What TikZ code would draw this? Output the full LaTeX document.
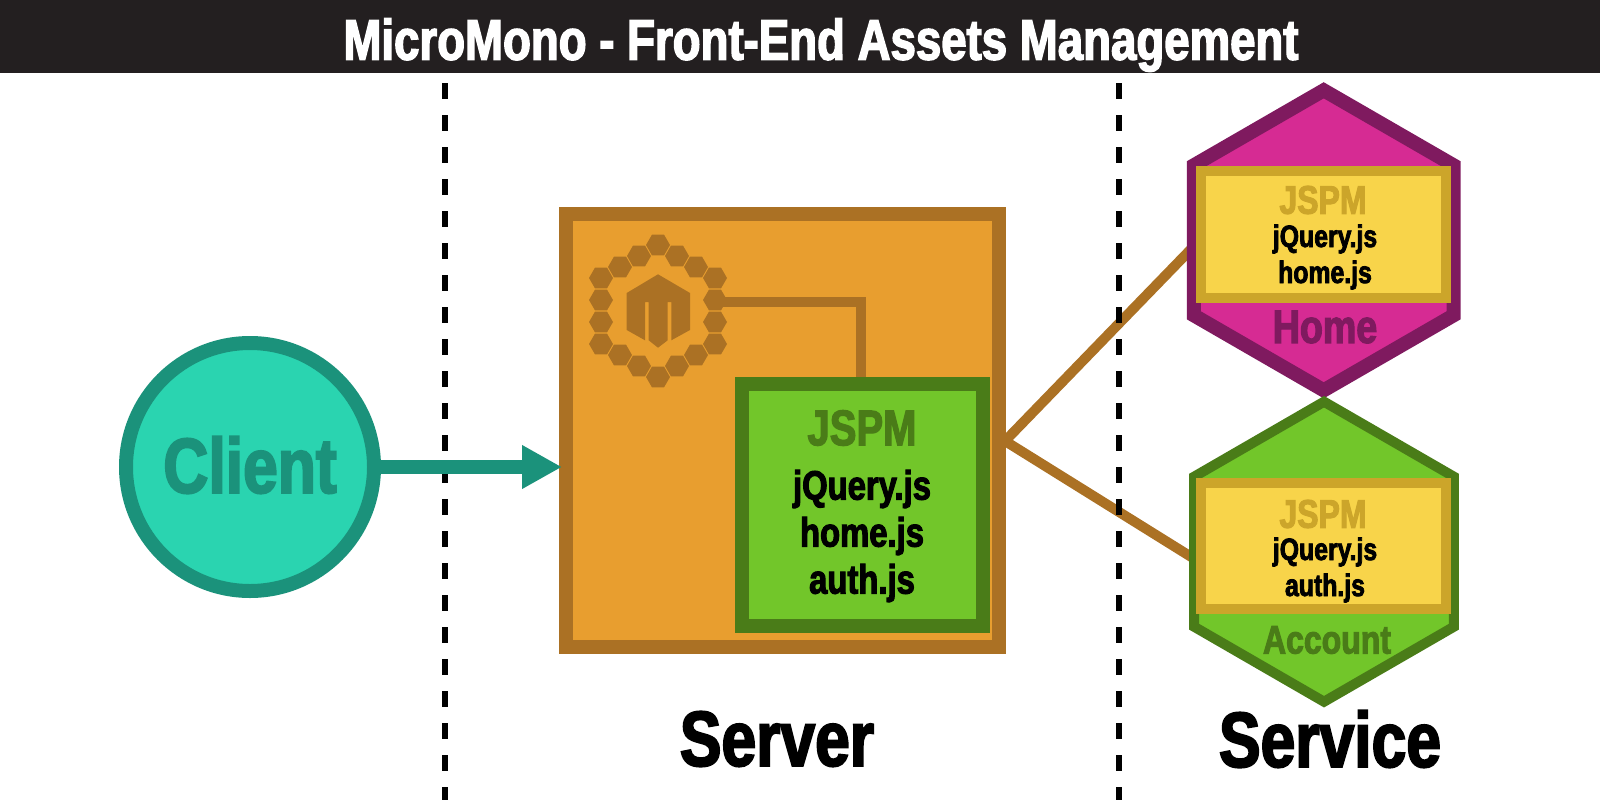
\documentclass[tikz,border=0pt]{standalone}
\usepackage{fontspec}
\usetikzlibrary{shapes.geometric,arrows.meta,backgrounds}
\newfontfamily\impactfont[FakeStretch=0.8,FakeBold=2.5]{Liberation Sans Bold}
\definecolor{inkblack}{HTML}{231F20}
\definecolor{tealfill}{HTML}{2AD4B0}
\definecolor{tealedge}{HTML}{1B927B}
\definecolor{orangefill}{HTML}{E89E2F}
\definecolor{orangeedge}{HTML}{AB7124}
\definecolor{greenfill}{HTML}{72C62A}
\definecolor{greenedge}{HTML}{4A7C18}
\definecolor{pinkfill}{HTML}{D62B93}
\definecolor{pinkedge}{HTML}{7F1A5F}
\definecolor{yellowfill}{HTML}{F8D44A}
\definecolor{yellowedge}{HTML}{CCA52A}
\newcommand{\bigtype}[1]{\impactfont\fontsize{#1}{#1}\selectfont}

\begin{document}
\begin{tikzpicture}[
    x=1pt, y=-1pt,
    label/.style={inner sep=0, outer sep=0, align=center},
    square/.style={rectangle, draw, line width=14pt, inner sep=0, outer sep=0},
    hexa/.style={regular polygon, regular polygon sides=6, shape border rotate=30, draw, inner sep=0, outer sep=0, minimum size=300pt},
    cell/.style={regular polygon, regular polygon sides=6, fill=orangeedge, inner sep=0, outer sep=0, minimum size=24pt},
    bundle/.style={rectangle, draw=yellowedge, fill=yellowfill, line width=10pt, inner sep=0, outer sep=0, minimum width=245pt},
    arrow/.style={-{Triangle[length=40pt,width=41pt]}, tealedge, line width=14pt},
    wire/.style={orangeedge, line width=10pt},
    tier/.style={line width=6pt, dash pattern=on 16pt off 16pt}
]
    \useasboundingbox (0,0) rectangle (1600,800);
    \node[rectangle, fill=inkblack, minimum width=1600pt, minimum height=73pt, inner sep=0, outer sep=0] (header) at (800,36.5) {};
    \node[label, text=white, font=\bigtype{57}] (title) at (821,45) {MicroMono - Front-End Assets Management};

    % tiers
    \coordinate (lineA) at (445,83);
    \coordinate (lineAend) at (445,800);
    \coordinate (lineB) at (1119,83);
    \coordinate (lineBend) at (1119,800);
    \draw[tier] (lineA) -- (lineAend);
    \draw[tier] (lineB) -- (lineBend);

    \node[circle, draw=tealedge, fill=tealfill, line width=14pt, minimum size=248pt, inner sep=0, outer sep=0] (client) at (250,467) {};
    \node[label, text=tealedge, font=\bigtype{78}] (clientname) at (250,465) {Client};

    \node[square, draw=orangeedge, fill=orangefill, minimum width=433pt, minimum height=433pt] (server) at (782.5,430.5) {};
    \node[square, draw=greenedge, fill=greenfill, minimum width=241pt, minimum height=242pt] (jspm) at (862.5,505) {};
    \node[label, text=greenedge, font=\bigtype{50}] (jspmname) at (862,428) {JSPM};
    \node[label, font=\bigtype{41}] (jspmlist) at (862,536) {jQuery.js\\[6pt]home.js\\[6pt]auth.js};

    % logo
    \foreach \dx/\dy [count=\i] in {0/-66,19/-55,38/-44,57/-33,57/-11,57/11,57/33,38/44,19/55,0/66,-19/55,-38/44,-57/33,-57/11,-57/-11,-57/-33,-38/-44,-19/-55}
        \node[cell] (cell\i) at (658+\dx,311+\dy) {};
    \fill[orangeedge] (658,274.3) -- (690,293) -- (690,330) -- (671.3,340.3) -- (671.3,302) -- (667.7,302) -- (667.7,340.3) -- (658,347.7) -- (648.7,340.3) -- (648.7,302) -- (645,302) -- (645,340.3) -- (626.7,330) -- (626.7,293) -- cycle;
    \draw[wire] ([yshift=-2pt]cell5.center) -| ([xshift=-2pt,yshift=7pt]jspm.north);

    % services
    \node[hexa, draw=pinkedge, fill=pinkfill, line width=14pt] (home) at (1323.7,240.3) {};
    \node[bundle, minimum height=127pt] (homebundle) at (1323.5,234.3) {};
    \node[label, text=yellowedge, font=\bigtype{40}] (homejspm) at (1323,200) {JSPM};
    \node[label, font=\bigtype{31}] (homelist) at (1325,257) {jQuery.js\\[5pt]home.js};
    \node[label, text=pinkedge, font=\bigtype{47}] (homename) at (1325,327) {Home};

    \node[hexa, draw=greenedge, fill=greenfill, line width=10pt] (account) at (1324,551.7) {};
    \node[bundle, minimum height=126pt] (accountbundle) at (1323.5,546) {};
    \node[label, text=yellowedge, font=\bigtype{40}] (accountjspm) at (1323,514) {JSPM};
    \node[label, font=\bigtype{31}] (accountlist) at (1325,570) {jQuery.js\\[5pt]auth.js};
    \node[label, text=greenedge, font=\bigtype{40}] (accountname) at (1327,640) {Account};

    \node[label, font=\bigtype{78}] (servername) at (777,739) {Server};
    \node[label, font=\bigtype{78}] (servicename) at (1330,739) {Service};

    \coordinate (hub) at (1005,441);
    \begin{scope}[on background layer]
        \draw[wire] (hub) -- ([yshift=-6pt]home.west);
        \draw[wire] (hub) -- ([yshift=-7pt]account.west);
    \end{scope}
    \draw[arrow] (client.east) -- ([xshift=-4pt]client.east -| server.west);
\end{tikzpicture}
\end{document}
